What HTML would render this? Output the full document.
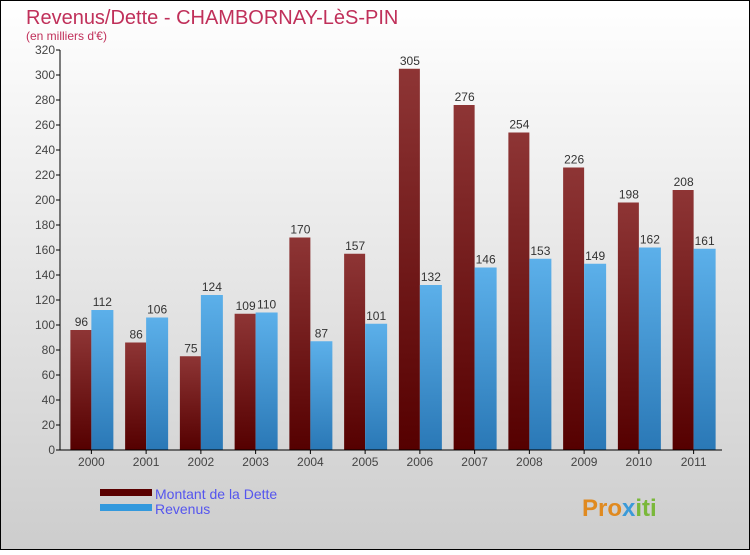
<!DOCTYPE html>
<html><head><meta charset="utf-8"><style>
html,body{margin:0;padding:0}
body{width:750px;height:550px;overflow:hidden;font-family:"Liberation Sans",sans-serif}
</style></head><body>
<svg id="c" width="750" height="550" xmlns="http://www.w3.org/2000/svg">
<defs>
<linearGradient id="bg" x1="0" y1="0" x2="0" y2="1"><stop offset="0" stop-color="#ffffff"/><stop offset="1" stop-color="#cdcdcd"/></linearGradient>
<linearGradient id="gd" x1="0" y1="0" x2="0" y2="1"><stop offset="0" stop-color="#8e3535"/><stop offset="1" stop-color="#550000"/></linearGradient>
<linearGradient id="gr" x1="0" y1="0" x2="0" y2="1"><stop offset="0" stop-color="#5cb0ea"/><stop offset="1" stop-color="#2a78b6"/></linearGradient>
</defs>
<rect x="0.5" y="0.5" width="749" height="549" fill="url(#bg)" stroke="#000"/>
<text x="26" y="24" font-size="20" fill="#c0305a">Revenus/Dette - CHAMBORNAY-LèS-PIN</text>
<text x="26" y="40" font-size="12" fill="#c0305a">(en milliers d'€)</text>
<g id="plot"></g>
<g>
<rect x="100" y="489" width="52" height="7" fill="#5a0000"/>
<text x="155" y="499" font-size="14" fill="#5555ee">Montant de la Dette</text>
<rect x="100" y="504" width="52" height="7" fill="#3399dd"/>
<text x="155" y="514" font-size="14" fill="#5555ee">Revenus</text>
</g>
<text x="582" y="516" font-size="24" font-weight="bold" fill="#e08a20">Pro<tspan fill="#3a9ad8">x</tspan><tspan fill="#7ab83a">iti</tspan></text>
</svg>
<script>
const years=["2000","2001","2002","2003","2004","2005","2006","2007","2008","2009","2010","2011"];
const dette=[96,86,75,109,170,157,305,276,254,226,198,208];
const revenus=[112,106,124,110,87,101,132,146,153,149,162,161];
const yTicks=[0,20,40,60,80,100,120,140,160,180,200,220,240,260,280,300,320];
const NS="http://www.w3.org/2000/svg";
const g=document.getElementById('plot');
const x0=60,y0=450,yTop=50,xEnd=722,yMax=320;
const gw=(xEnd-x0-5)/years.length;
const Y=v=>y0-(v/yMax)*(y0-yTop);
const cx=i=>x0+5+gw*i+gw/2-1;
function el(t,a){const e=document.createElementNS(NS,t);for(const k in a)e.setAttribute(k,a[k]);g.appendChild(e);return e;}
yTicks.forEach(t=>{
  const l=el('line',{x1:x0-4,x2:x0,y1:Y(t),y2:Y(t),stroke:'#000'});
  
  
  const tx=el('text',{x:x0-5,y:Y(t)+4,'font-size':12,fill:'#444','text-anchor':'end'});
  tx.textContent=t;
  
  
});
years.forEach((yr,i)=>{
  const c=cx(i);
  const b1=el('rect',{x:c-21,y:Y(dette[i]),width:21,height:y0-Y(dette[i]),fill:'url(#gd)'});
  
  
  const b2=el('rect',{x:c,y:Y(revenus[i]),width:22,height:y0-Y(revenus[i]),fill:'url(#gr)'});
  
  
  const v1=el('text',{x:c-10,y:Y(dette[i])-4,'font-size':12,fill:'#333','text-anchor':'middle'});
  v1.textContent=dette[i];
  
  
  const v2=el('text',{x:c+11,y:Y(revenus[i])-4,'font-size':12,fill:'#333','text-anchor':'middle'});
  v2.textContent=revenus[i];
  
  
  const tk=el('line',{x1:c,x2:c,y1:y0,y2:y0+4,stroke:'#000'});
  
  
  const xl=el('text',{x:c,y:y0+16,'font-size':12,fill:'#444','text-anchor':'middle'});
  xl.textContent=yr;
  
  
});
const ya=el('line',{x1:x0,x2:x0,y1:yTop,y2:y0,stroke:'#000'});


const xa=el('line',{x1:x0,x2:xEnd,y1:y0,y2:y0,stroke:'#000'});


</script>
</body></html>
